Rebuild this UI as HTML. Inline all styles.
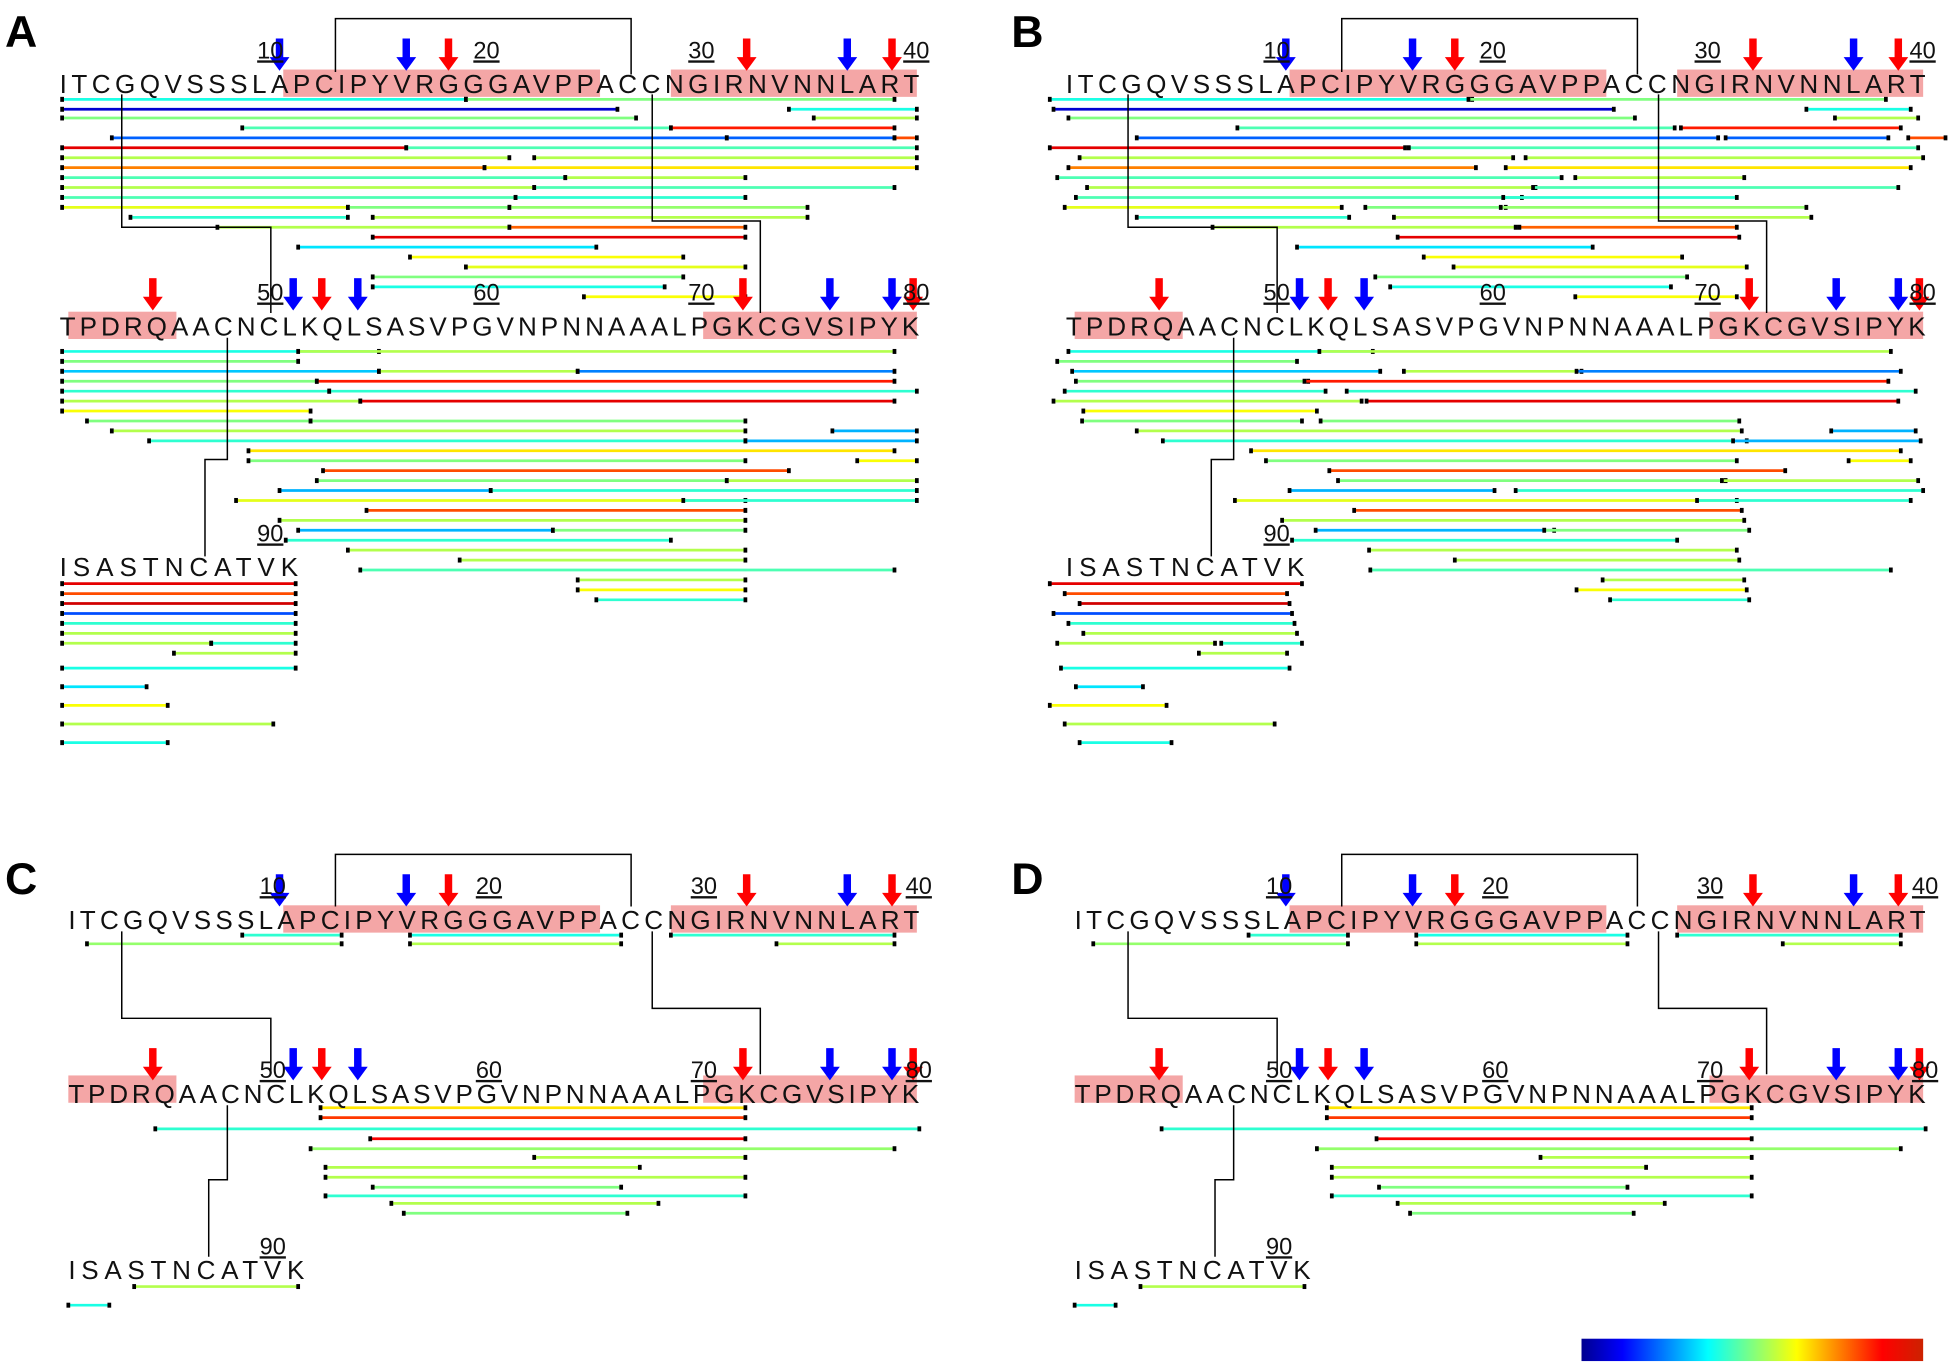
<!DOCTYPE html>
<html><head><meta charset="utf-8"><style>
html,body{margin:0;padding:0;background:#fff;}
svg{display:block;}
.s{font-family:"Liberation Sans",sans-serif;font-size:21px;fill:#111;}
.n{font-family:"Liberation Sans",sans-serif;font-size:19px;fill:#111;text-decoration:underline;}
.L{font-family:"Liberation Sans",sans-serif;font-size:36px;font-weight:bold;fill:#000;}
</style></head><body>
<svg id="sv" width="1948" height="1371" viewBox="0 0 1568 1104" preserveAspectRatio="none" xmlns="http://www.w3.org/2000/svg">
<defs><linearGradient id="jet" x1="0" x2="1" y1="0" y2="0">
<stop offset="0" stop-color="#00008f"/><stop offset="0.12" stop-color="#0000ff"/><stop offset="0.37" stop-color="#00ffff"/><stop offset="0.5" stop-color="#80ff80"/><stop offset="0.63" stop-color="#ffff00"/><stop offset="0.88" stop-color="#ff0000"/><stop offset="1" stop-color="#cc2200"/></linearGradient></defs>
<g id="hl"></g>
<g id="ln"></g>
<g id="tx">
<text class="L" x="4" y="38">A</text><text class="L" x="814" y="38">B</text>
<text class="L" x="4" y="720">C</text><text class="L" x="814" y="720">D</text>
<g id="pA">
<text class="s" x="48" y="75" textLength="692" lengthAdjust="spacing">ITCGQVSSSLAPCIPYVRGGGAVPPACCNGIRNVNNLART</text>
<text class="s" x="48" y="270" textLength="692" lengthAdjust="spacing">TPDRQAACNCLKQLSASVPGVNPNNAAALPGKCGVSIPYK</text>
<text class="s" x="48" y="464" textLength="192" lengthAdjust="spacing">ISASTNCATVK</text>
<text class="n" x="207" y="47">10</text><text class="n" x="381" y="47">20</text><text class="n" x="554" y="47">30</text><text class="n" x="727" y="47">40</text>
<text class="n" x="207" y="242">50</text><text class="n" x="381" y="242">60</text><text class="n" x="554" y="242">70</text><text class="n" x="727" y="242">80</text>
<text class="n" x="207" y="436">90</text>
</g>
<g transform="translate(810,0)">
<text class="s" x="48" y="75" textLength="692" lengthAdjust="spacing">ITCGQVSSSLAPCIPYVRGGGAVPPACCNGIRNVNNLART</text>
<text class="s" x="48" y="270" textLength="692" lengthAdjust="spacing">TPDRQAACNCLKQLSASVPGVNPNNAAALPGKCGVSIPYK</text>
<text class="s" x="48" y="464" textLength="192" lengthAdjust="spacing">ISASTNCATVK</text>
<text class="n" x="207" y="47">10</text><text class="n" x="381" y="47">20</text><text class="n" x="554" y="47">30</text><text class="n" x="727" y="47">40</text>
<text class="n" x="207" y="242">50</text><text class="n" x="381" y="242">60</text><text class="n" x="554" y="242">70</text><text class="n" x="727" y="242">80</text>
<text class="n" x="207" y="436">90</text>
</g>
<g transform="translate(0,673)">
<text class="s" x="55" y="75" textLength="685" lengthAdjust="spacing">ITCGQVSSSLAPCIPYVRGGGAVPPACCNGIRNVNNLART</text>
<text class="s" x="55" y="215" textLength="685" lengthAdjust="spacing">TPDRQAACNCLKQLSASVPGVNPNNAAALPGKCGVSIPYK</text>
<text class="s" x="55" y="357" textLength="190" lengthAdjust="spacing">ISASTNCATVK</text>
<text class="n" x="209" y="47">10</text><text class="n" x="383" y="47">20</text><text class="n" x="556" y="47">30</text><text class="n" x="729" y="47">40</text>
<text class="n" x="209" y="195">50</text><text class="n" x="383" y="195">60</text><text class="n" x="556" y="195">70</text><text class="n" x="729" y="195">80</text>
<text class="n" x="209" y="337">90</text>
</g>
<g transform="translate(810,673)">
<text class="s" x="55" y="75" textLength="685" lengthAdjust="spacing">ITCGQVSSSLAPCIPYVRGGGAVPPACCNGIRNVNNLART</text>
<text class="s" x="55" y="215" textLength="685" lengthAdjust="spacing">TPDRQAACNCLKQLSASVPGVNPNNAAALPGKCGVSIPYK</text>
<text class="s" x="55" y="357" textLength="190" lengthAdjust="spacing">ISASTNCATVK</text>
<text class="n" x="209" y="47">10</text><text class="n" x="383" y="47">20</text><text class="n" x="556" y="47">30</text><text class="n" x="729" y="47">40</text>
<text class="n" x="209" y="195">50</text><text class="n" x="383" y="195">60</text><text class="n" x="556" y="195">70</text><text class="n" x="729" y="195">80</text>
<text class="n" x="209" y="337">90</text>
</g>
</g>
<rect x="1273" y="1078" width="275" height="18" fill="url(#jet)"/>
</svg>
<script>
(function(){
var NS="http://www.w3.org/2000/svg";
var hl=document.getElementById('hl'),ln=document.getElementById('ln');
function el(t,a,p){var e=document.createElementNS(NS,t);for(var k in a)e.setAttribute(k,a[k]);(p||ln).appendChild(e);return e;}
function jet(v){function c(x){return Math.max(0,Math.min(1,x));}
var r=c(1.5-Math.abs(4*v-3)),g=c(1.5-Math.abs(4*v-2)),b=c(1.5-Math.abs(4*v-1));
return 'rgb('+Math.round(r*255)+','+Math.round(g*255)+','+Math.round(b*255)+')';}
var A1=[[80,50,375,.4],[80,375,720,.5],[88,635,738,.4],[88,50,497,.08],[95,50,512,.5],[95,655,738,.55],[103,195,540,.45],[103,540,720,.85],[111,90,585,.22],[111,585,720,.22],[111,720,738,.8],[119,50,327,.9],[119,327,738,.45],[127,50,410,.55],[127,430,738,.55],[135,50,390,.75],[135,390,738,.65],[143,50,455,.45],[143,455,600,.55],[151,50,430,.55],[151,430,720,.45],[159,50,415,.45],[159,415,600,.42],[167,50,280,.6],[167,280,410,.5],[167,410,650,.52],[175,105,280,.42],[175,300,650,.55],[183,175,410,.55],[183,410,600,.78],[191,300,600,.9],[199,240,480,.35],[207,330,550,.62],[215,375,600,.6],[223,300,550,.5],[231,300,535,.4],[239,470,600,.62],
[283,50,305,.4],[283,240,720,.55],[291,50,240,.5],[299,50,305,.32],[299,305,465,.55],[299,465,720,.25],[307,50,255,.5],[307,255,720,.85],[315,50,265,.42],[315,265,738,.42],[323,50,290,.55],[323,290,720,.9],[331,50,250,.62],[339,70,250,.5],[339,250,600,.5],[347,90,600,.55],[347,670,738,.3],[355,120,600,.42],[355,600,738,.3],[363,200,720,.65],[371,200,600,.5],[371,690,738,.62],[379,260,635,.8],[387,255,585,.5],[387,585,738,.55],[395,225,395,.3],[395,395,738,.42],[403,190,600,.6],[403,550,738,.42],[411,295,600,.8],[419,225,600,.55],[427,240,445,.3],[427,445,600,.5],[435,230,540,.42],[443,280,600,.55],[451,370,600,.55],[459,290,720,.45],[467,465,600,.55],[475,465,600,.62],[483,480,600,.42],
[470,50,238,.9],[478,50,238,.8],[486,50,238,.92],[494,50,238,.2],[502,50,238,.42],[510,50,238,.55],[518,50,170,.55],[518,170,238,.42],[526,140,238,.55],[538,50,238,.4],[553,50,118,.35],[568,50,135,.62],[583,50,220,.55],[598,50,135,.4]];
var C1=[[753,195,275,.42],[753,330,500,.4],[753,540,720,.42],[760,70,275,.52],[760,330,500,.55],[760,625,720,.55],
[892,258,600,.65],[900,258,600,.82],[909,125,740,.42],[917,298,600,.88],[925,250,720,.52],[932,430,600,.55],[940,262,515,.55],[948,262,600,.55],[956,300,500,.5],[963,262,600,.42],[969,315,530,.55],[977,325,505,.5],
[1036,108,240,.55],[1051,55,88,.4]];
function draw(L,dx,jit){L.forEach(function(a,i){var x1=a[1]+dx,x2=a[2]+dx;if(jit){var s=((i*37)%11)-5;x1+=s*3;x2=Math.max(x1+30,x2-((i*13)%7)*2);}
el('line',{x1:x1,x2:x2,y1:a[0],y2:a[0],stroke:jet(a[3]),'stroke-width':2.2});
el('rect',{x:x1-1.5,y:a[0]-2,width:3,height:4,fill:'#000'});el('rect',{x:x2-1.5,y:a[0]-2,width:3,height:4,fill:'#000'});});}
draw(A1,0,false);draw(A1,810,true);draw(C1,0,false);
draw(C1,810,false);
// highlights
function H(dx,dy,r2){[[228,483,dy+56],[540,738,dy+56],[55,142,dy+r2],[566,738,dy+r2]].forEach(function(h){el('rect',{x:h[0]+dx,y:h[2],width:h[1]-h[0],height:22,fill:'#f4a6a6'},hl);});}
H(0,0,251);H(810,0,251);H(0,673,193+673-673+0);H(810,673,193);
// fix C/D row2 y
// connectors
function path(d,dx,dy){el('path',{d:d,fill:'none',stroke:'#000','stroke-width':1.2,transform:'translate('+dx+','+dy+')'});}
function conA(dx){path('M98 76V183H218V252',dx,0);path('M270 58V15H508V60',dx,0);path('M525 76V178H612V252',dx,0);path('M183 272V370H165V448',dx,0);}
conA(0);conA(810);
function conC(dx){path('M98 750V820H218V865',dx,673-673);path('M270 730V688H508V730',dx,0);path('M525 750V812H612V865',dx,0);path('M183 890V950H168V1012',dx,0);}
conC(0);conC(810);
// arrows
function arr(x,y,c){el('rect',{x:x-3,y:y,width:6,height:16,fill:c});el('polygon',{points:(x-8)+','+(y+15)+' '+(x+8)+','+(y+15)+' '+x+','+(y+26),fill:c});}
function arrows(dx,dy1,dy2){[[225,'#00f'],[327,'#00f'],[682,'#00f'],[361,'#f00'],[601,'#f00'],[718,'#f00']].forEach(function(a){arr(a[0]+dx,31+dy1,a[1]);});
[[123,'#f00'],[259,'#f00'],[598,'#f00'],[735,'#f00'],[236,'#00f'],[288,'#00f'],[668,'#00f'],[718,'#00f']].forEach(function(a){arr(a[0]+dx,224+dy2,a[1]);});}
arrows(0,0,0);arrows(810,0,0);arrows(0,673,620);arrows(810,673,620);
})();
</script>
</body></html>
